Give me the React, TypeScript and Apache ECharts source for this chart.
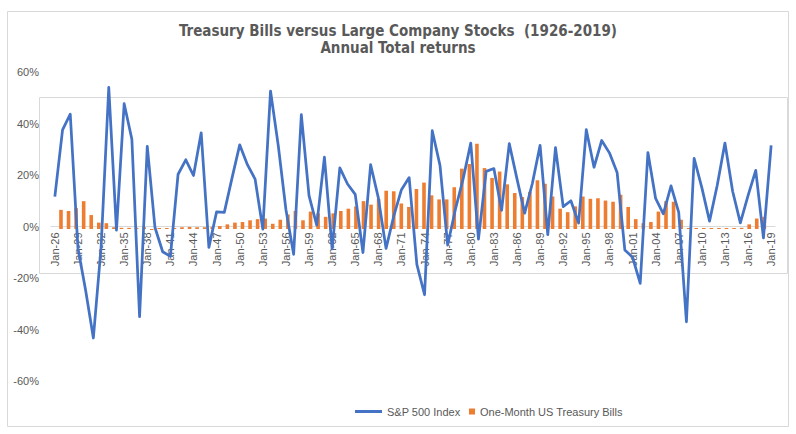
import React, { useEffect, useRef } from "react";
import * as echarts from "echarts";

// Calendar years 1926–2019, labelled the way the spreadsheet formats them
const categories: string[] = Array.from(
  { length: 94 },
  (_, i) => "Jan-" + String((26 + i) % 100).padStart(2, "0")
);

// S&P 500 annual total return, %
const sp500: number[] = [
  11.6, 37.5, 43.6, -8.4, -24.9, -43.3, -8.2, 54.0, -1.4, 47.7,
  33.9, -35.0, 31.1, -0.4, -9.8, -11.6, 20.3, 25.9, 19.8, 36.4,
  -8.1, 5.7, 5.5, 18.8, 31.7, 24.0, 18.4, -1.0, 52.6, 31.6,
  6.6, -10.8, 43.4, 12.0, 0.5, 26.9, -8.7, 22.8, 16.5, 12.5,
  -10.1, 24.0, 11.1, -8.5, 4.0, 14.3, 19.0, -14.7, -26.5, 37.2,
  23.8, -7.2, 6.6, 18.4, 32.4, -4.9, 21.4, 22.5, 6.3, 32.2,
  18.5, 5.2, 16.8, 31.5, -3.2, 30.6, 7.7, 10.0, 1.3, 37.6,
  23.0, 33.4, 28.6, 21.0, -9.1, -11.9, -22.1, 28.7, 10.9, 4.9,
  15.8, 5.5, -37.0, 26.5, 15.1, 2.1, 16.0, 32.4, 13.7, 1.4,
  12.0, 21.8, -4.4, 31.5,
];

// One-month US Treasury bill annual return, %
const tbills: number[] = [
  3.3, 3.1, 3.6, 4.8, 2.4, 1.1, 1.0, 0.3, 0.2, 0.2,
  0.2, 0.3, -0.02, 0.02, 0.0, 0.1, 0.3, 0.35, 0.3, 0.3,
  0.35, 0.5, 0.8, 1.1, 1.2, 1.5, 1.7, 1.8, 0.9, 1.6,
  2.5, 3.1, 1.5, 3.0, 2.7, 2.1, 2.7, 3.1, 3.5, 3.9,
  4.8, 4.2, 5.2, 6.6, 6.5, 4.4, 3.8, 6.9, 8.0, 5.8,
  5.1, 5.1, 7.2, 10.4, 11.2, 14.7, 10.5, 8.8, 9.9, 7.7,
  6.2, 5.5, 6.4, 8.4, 7.8, 5.6, 3.5, 2.9, 3.9, 5.6,
  5.2, 5.3, 4.9, 4.7, 5.9, 3.8, 1.7, 1.0, 1.2, 3.0,
  4.8, 4.7, 1.6, 0.1, 0.1, 0.04, 0.06, 0.02, 0.02, 0.02,
  0.2, 0.8, 1.8, 2.1,
];

const yTicks = { min: -60, max: 60, interval: 20 };

const TEXT = "#595959";
const BORDER = "#d9d9d9";
const BLUE = "#4472C4";
const ORANGE = "#ED7D31";
const FONT = "Liberation Sans";

// Plot geometry (px)
const PLOT_TOP = 72;
const PLOT_BOTTOM = 53;
const ZERO_Y = 72 + (381 - 72) / 2; // where 0% sits on the primary scale

const titleStyle = {
  fontFamily: "DejaVu Sans Condensed",
  fontWeight: "bold",
  fontSize: 15,
  lineHeight: 15,
  color: TEXT,
};

export default function App() {
  const ref = useRef<HTMLDivElement>(null);

  useEffect(() => {
    document.body.style.margin = "0";
    if (!ref.current) return;
    const chart = echarts.init(ref.current, undefined, { renderer: "svg" });

    chart.setOption({
      animation: false,
      backgroundColor: "#ffffff",
      title: [
        {
          text: "Treasury Bills versus Large Company Stocks  (1926-2019)",
          left: "center",
          top: 23,
          padding: 0,
          textStyle: titleStyle,
        },
        {
          text: "Annual Total returns",
          left: "center",
          top: 40,
          padding: 0,
          textStyle: titleStyle,
        },
      ],
      graphic: [
        {
          type: "rect",
          shape: { x: 7.5, y: 11.5, width: 781, height: 415 },
          style: { fill: "none", stroke: BORDER, lineWidth: 1 },
          silent: true,
        },
        {
          type: "rect",
          shape: { x: 39.5, y: 97.5, width: 748, height: 176 },
          style: { fill: "none", stroke: BORDER, lineWidth: 1 },
          silent: true,
        },
      ],
      legend: [
        {
          data: ["S&P 500 Index"],
          left: 350,
          top: 401,
          icon: "rect",
          itemWidth: 27,
          itemHeight: 3,
          textStyle: { color: TEXT, fontFamily: FONT, fontSize: 11 },
        },
        {
          data: ["One-Month US Treasury Bills"],
          left: 464,
          top: 401,
          icon: "rect",
          itemWidth: 6,
          itemHeight: 6,
          textStyle: { color: TEXT, fontFamily: FONT, fontSize: 11 },
        },
      ],
      grid: [
        // S&P line and the percentage scale
        { left: 51, right: 21, top: PLOT_TOP, bottom: PLOT_BOTTOM },
        // T-bill columns
        { left: 57.2, right: 27.9, top: PLOT_TOP, bottom: PLOT_BOTTOM },
        // category axis drawn along the 0% level
        { left: 51, right: 21, top: PLOT_TOP, height: ZERO_Y - PLOT_TOP },
      ],
      xAxis: [
        {
          type: "category",
          gridIndex: 0,
          data: categories,
          boundaryGap: true,
          show: false,
        },
        {
          type: "category",
          gridIndex: 1,
          data: categories,
          boundaryGap: true,
          show: false,
        },
        {
          type: "category",
          gridIndex: 2,
          data: categories,
          boundaryGap: true,
          position: "bottom",
          axisLine: { show: true, onZero: false, lineStyle: { color: BORDER, width: 1 } },
          axisTick: { show: false },
          splitLine: { show: false },
          axisLabel: {
            interval: 2,
            rotate: 90,
            margin: 6,
            color: TEXT,
            fontFamily: FONT,
            fontSize: 11,
          },
        },
      ],
      yAxis: [
        {
          type: "value",
          gridIndex: 0,
          min: yTicks.min,
          max: yTicks.max,
          interval: yTicks.interval,
          axisLine: { show: false },
          axisTick: { show: false },
          splitLine: { show: false },
          axisLabel: {
            margin: 12,
            color: TEXT,
            fontFamily: FONT,
            fontSize: 11,
            formatter: (v: number) => `${v}%`,
          },
        },
        {
          type: "value",
          gridIndex: 1,
          min: -26.21,
          max: 27.07,
          show: false,
          splitLine: { show: false },
        },
        {
          type: "value",
          gridIndex: 2,
          min: 0,
          max: 1,
          show: false,
          splitLine: { show: false },
        },
      ],
      series: [
        {
          name: "One-Month US Treasury Bills",
          type: "bar",
          xAxisIndex: 1,
          yAxisIndex: 1,
          data: tbills,
          barWidth: 3.6,
          barMinHeight: 1,
          itemStyle: { color: ORANGE },
        },
        {
          name: "S&P 500 Index",
          type: "line",
          xAxisIndex: 0,
          yAxisIndex: 0,
          data: sp500,
          showSymbol: false,
          symbol: "none",
          lineStyle: { color: BLUE, width: 2.75, join: "round" },
          itemStyle: { color: BLUE },
        },
      ],
    });

    return () => chart.dispose();
  }, []);

  return <div ref={ref} style={{ width: 796, height: 434 }} />;
}
